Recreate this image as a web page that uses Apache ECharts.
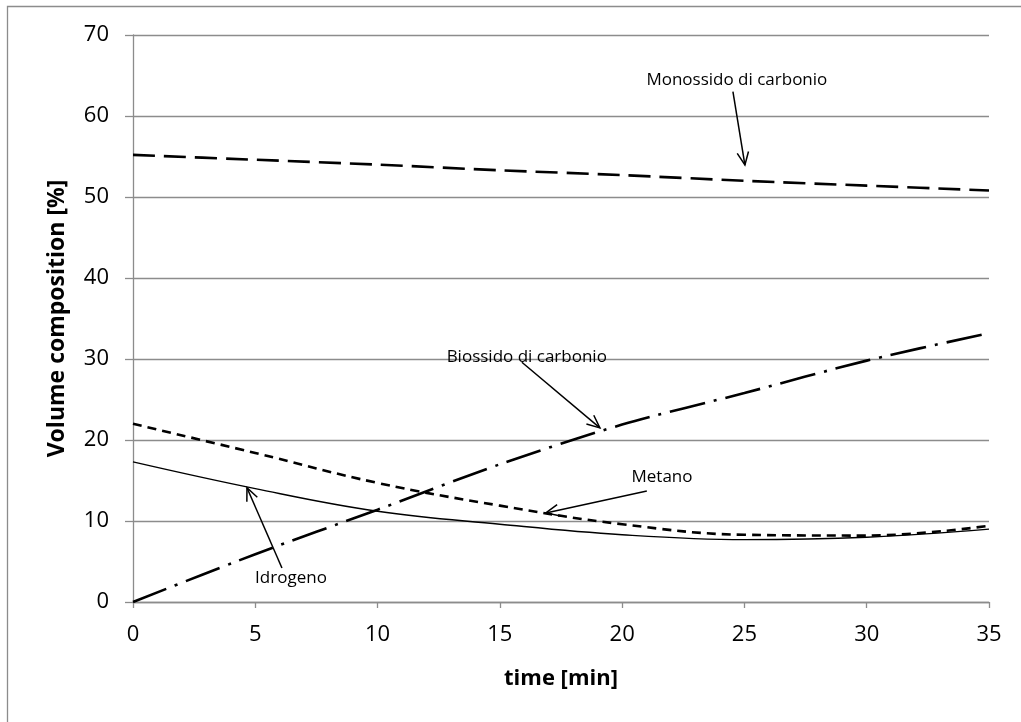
<!DOCTYPE html>
<html>
<head>
<meta charset="utf-8">
<style>
  html, body { margin: 0; padding: 0; background: #fff; }
  #chart { width: 1021px; height: 722px; }
</style>
<script src="https://cdn.jsdelivr.net/npm/echarts@6/dist/echarts.min.js"></script>
</head>
<body>
<div id="chart"></div>
<script>
// Sampling times [min]
const times = [0, 5, 10, 15, 20, 25, 30, 35];
// Gas composition by volume [%]
const monossido = [55.2, 54.6, 54.0, 53.3, 52.7, 52.0, 51.4, 50.8];
const biossido  = [0.0, 5.9, 11.4, 17.0, 21.9, 25.8, 29.8, 33.2];
const metano    = [22.0, 18.4, 14.7, 11.9, 9.6, 8.3, 8.2, 9.4];
const idrogeno  = [17.3, 14.0, 11.2, 9.6, 8.3, 7.7, 8.0, 9.0];
// Axis ticks
const xTicks = [0, 5, 10, 15, 20, 25, 30, 35];
const yTicks = [0, 10, 20, 30, 40, 50, 60, 70];

const FONT = 'Open Sans';
const GRID_GRAY = '#8c8c8c';

const pairs = (ys) => times.map((t, i) => [t, ys[i]]);

// Callout labels with leader arrows (data coordinates)
const callouts = [
  { text: 'Monossido di carbonio', at: [24.69, 64.4], from: [24.53, 63.0], to: [25.02, 53.95] },
  { text: 'Biossido di carbonio',  at: [16.10, 30.25], from: [15.90, 29.6], to: [19.09, 21.5] },
  { text: 'Metano',                at: [21.63, 15.4], from: [21.01, 13.7], to: [16.88, 11.0] },
  { text: 'Idrogeno',              at: [6.46, 2.96],  from: [6.09, 4.2],   to: [4.66, 14.1] }
];

const chart = echarts.init(document.getElementById('chart'), null, { renderer: 'canvas' });

const option = {
  animation: false,
  backgroundColor: '#fff',
  grid: { left: 133, right: 32, top: 35, bottom: 120, containLabel: false },
  xAxis: {
    type: 'value',
    min: xTicks[0], max: xTicks[xTicks.length - 1], interval: 5,
    name: 'time [min]',
    nameLocation: 'middle',
    nameGap: 66,
    nameTextStyle: { fontFamily: FONT, fontSize: 22, fontWeight: 'bold', color: '#000' },
    axisLine: { show: true, lineStyle: { color: GRID_GRAY, width: 1.3 } },
    axisTick: { show: true, length: 6, lineStyle: { color: GRID_GRAY, width: 1.3 } },
    axisLabel: { fontFamily: FONT, fontSize: 22, color: '#000', margin: 22 },
    splitLine: { show: false }
  },
  yAxis: {
    type: 'value',
    min: yTicks[0], max: yTicks[yTicks.length - 1], interval: 10,
    name: 'Volume composition [%]',
    nameLocation: 'middle',
    nameGap: 64,
    nameTextStyle: { fontFamily: FONT, fontSize: 23, fontWeight: 'bold', color: '#000' },
    axisLine: { show: true, lineStyle: { color: GRID_GRAY, width: 1.3 } },
    axisTick: { show: true, length: 8, lineStyle: { color: GRID_GRAY, width: 1.3 } },
    axisLabel: { fontFamily: FONT, fontSize: 22, color: '#000', margin: 24 },
    splitLine: { show: true, lineStyle: { color: GRID_GRAY, width: 1.3 } }
  },
  series: [
    {
      name: 'Monossido di carbonio', type: 'line', data: pairs(monossido),
      smooth: 0.3, symbol: 'none',
      lineStyle: { color: '#000', width: 2.6, type: [22, 9] }
    },
    {
      name: 'Biossido di carbonio', type: 'line', data: pairs(biossido),
      smooth: 0.3, symbol: 'none',
      lineStyle: { color: '#000', width: 2.6, type: [36, 9, 3, 9] }
    },
    {
      name: 'Metano', type: 'line', data: pairs(metano),
      smooth: 0.4, symbol: 'none',
      lineStyle: { color: '#000', width: 2.6, type: [9, 6] }
    },
    {
      name: 'Idrogeno', type: 'line', data: pairs(idrogeno),
      smooth: 0.4, symbol: 'none',
      lineStyle: { color: '#000', width: 1.4, type: 'solid' }
    }
  ]
};

chart.setOption(option);

// Frame around the chart area and callout arrows, placed through the grid's coordinate system
function buildGraphics() {
  const els = [{
    type: 'rect', silent: true,
    shape: { x: 7.5, y: 6.5, width: 1200, height: 900 },
    style: { fill: 'none', stroke: GRID_GRAY, lineWidth: 1.3 }
  }];
  callouts.forEach((c) => {
    const p = chart.convertToPixel({ gridIndex: 0 }, c.at);
    const a = chart.convertToPixel({ gridIndex: 0 }, c.from);
    const b = chart.convertToPixel({ gridIndex: 0 }, c.to);
    const ang = Math.atan2(a[1] - b[1], a[0] - b[0]);
    const len = 14, spread = 0.42;
    const w1 = [b[0] + len * Math.cos(ang + spread), b[1] + len * Math.sin(ang + spread)];
    const w2 = [b[0] + len * Math.cos(ang - spread), b[1] + len * Math.sin(ang - spread)];
    els.push({
      type: 'text', silent: true, x: p[0], y: p[1],
      style: { text: c.text, fontFamily: FONT, fontSize: 17, fill: '#000', align: 'center', verticalAlign: 'middle' }
    });
    els.push({
      type: 'line', silent: true,
      shape: { x1: a[0], y1: a[1], x2: b[0], y2: b[1] },
      style: { stroke: '#000', lineWidth: 1.5 }
    });
    els.push({
      type: 'polyline', silent: true,
      shape: { points: [w1, b, w2] },
      style: { stroke: '#000', lineWidth: 1.5, fill: 'none' }
    });
  });
  chart.setOption({ graphic: els });
}
buildGraphics();
</script>
</body>
</html>
